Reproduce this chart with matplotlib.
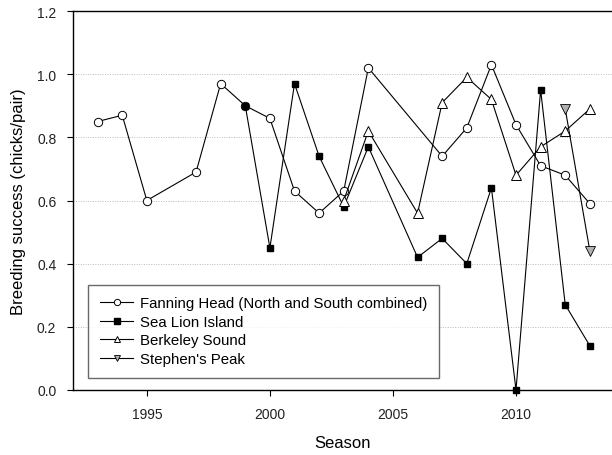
import matplotlib
matplotlib.use("Agg")
import matplotlib.pyplot as plt

plt.rcParams['font.family'] = ['Liberation Sans', 'DejaVu Sans']

# data
fh_years = [1993, 1994, 1995, 1997, 1998, 1999, 2000, 2001, 2002, 2003, 2004,
            2007, 2008, 2009, 2010, 2011, 2012, 2013]
fh_vals = [0.85, 0.87, 0.60, 0.69, 0.97, 0.90, 0.86, 0.63, 0.56, 0.63, 1.02,
           0.74, 0.83, 1.03, 0.84, 0.71, 0.68, 0.59]

sli_years = [1999, 2000, 2001, 2002, 2003, 2004, 2006, 2007, 2008, 2009,
             2010, 2011, 2012, 2013]
sli_vals = [0.90, 0.45, 0.97, 0.74, 0.58, 0.77, 0.42, 0.48, 0.40, 0.64,
            0.00, 0.95, 0.27, 0.14]

bs_years = [2003, 2004, 2006, 2007, 2008, 2009, 2010, 2011, 2012, 2013]
bs_vals = [0.60, 0.82, 0.56, 0.91, 0.99, 0.92, 0.68, 0.77, 0.82, 0.89]

sp_years = [2012, 2013]
sp_vals = [0.89, 0.44]

x_ticks = [1995, 2000, 2005, 2010]
y_ticks = [0.0, 0.2, 0.4, 0.6, 0.8, 1.0, 1.2]

fig = plt.figure(figsize=(6.12, 4.56), dpi=100)
ax = fig.add_axes([73 / 612, 65 / 456, 539 / 612, 379 / 456])

for y in y_ticks[1:-1]:
    ax.axhline(y, color='#bbbbbb', linestyle=(0, (1, 1.5)), linewidth=0.7, zorder=0)

ax.plot(fh_years, fh_vals, color='black', linewidth=0.8, marker='o', markersize=6,
        markerfacecolor='white', markeredgecolor='black', markeredgewidth=0.7,
        label='Fanning Head (North and South combined)', clip_on=False, zorder=3)
ax.plot(sli_years, sli_vals, color='black', linewidth=0.8, marker='s', markersize=5,
        markerfacecolor='black', markeredgecolor='black',
        label='Sea Lion Island', clip_on=False, zorder=3)
ax.plot(bs_years, bs_vals, color='black', linewidth=0.8, marker='^', markersize=6.5,
        markerfacecolor='white', markeredgecolor='black', markeredgewidth=0.7,
        label='Berkeley Sound', clip_on=False, zorder=3)
ax.plot(sp_years, sp_vals, color='black', linewidth=0.8, marker='v', markersize=6.5,
        markerfacecolor='#b0b0b0', markeredgecolor='black', markeredgewidth=0.6,
        label="Stephen's Peak", clip_on=False, zorder=3)

ax.set_xlim(1992, 2013.9)
ax.set_ylim(0, 1.2)
ax.set_xticks(x_ticks)
ax.set_yticks(y_ticks)
ax.set_yticklabels([f'{v:.1f}' for v in y_ticks])
ax.tick_params(direction='out', length=4, labelsize=10, pad=8, labelcolor='#222222')
ax.spines['right'].set_visible(False)
for s in ['left', 'bottom', 'top']:
    ax.spines[s].set_linewidth(1.0)

ax.set_xlabel('Season', fontsize=12, labelpad=10)
ax.set_ylabel('Breeding success (chicks/pair)', fontsize=12, labelpad=8)

leg = ax.legend(loc='lower left', bbox_to_anchor=(15 / 539, 12 / 379), borderaxespad=0,
                fontsize=10.8, frameon=True, fancybox=False, edgecolor='#444444',
                borderpad=0.8, labelspacing=0.3, handlelength=2.2,
                handletextpad=0.45, markerscale=0.75)
leg.get_frame().set_linewidth(1.0)

fig.savefig('out.png', dpi=100)
